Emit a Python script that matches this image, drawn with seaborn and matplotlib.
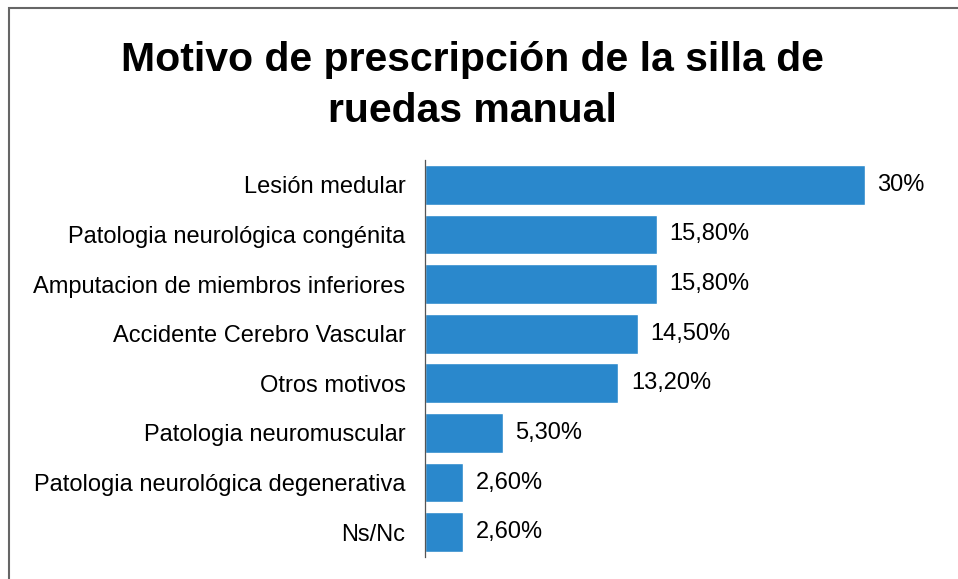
import seaborn as sns
import matplotlib.pyplot as plt
import matplotlib.patches as mpatches
import pandas as pd

# Categories and values (percent)
categories = [
    'Lesión medular', 'Patologia neurológica congénita',
    'Amputacion de miembros inferiores', 'Accidente Cerebro Vascular',
    'Otros motivos', 'Patologia neuromuscular',
    'Patologia neurológica degenerativa', 'Ns/Nc'
]
values = [30, 15.8, 15.8, 14.5, 13.2, 5.3, 2.6, 2.6]
value_labels = ['30%', '15,80%', '15,80%', '14,50%', '13,20%', '5,30%', '2,60%', '2,60%']

data = pd.DataFrame({'motivo': categories, 'pct': values})

sns.set_style('white')
plt.rcParams['font.family'] = ['Liberation Sans', 'DejaVu Sans']
plt.rcParams['text.color'] = 'black'
plt.rcParams['ytick.color'] = 'black'

fig = plt.figure(figsize=(9.58, 5.79), dpi=100)
ax = fig.add_axes([0.4436, 0.038, 0.5355, 0.6857])

sns.barplot(data=data, y='motivo', x='pct', color='#2a88cc', width=0.8,
            saturation=1, ax=ax)

ax.bar_label(ax.containers[0], labels=value_labels, padding=9, fontsize=17)

ax.set_xlim(0, 35)
ax.set_xlabel('')
ax.set_ylabel('')
ax.set_xticks([])
ax.tick_params(axis='y', length=0, pad=14, labelsize=17, labelcolor='black')
for side in ['top', 'right', 'bottom']:
    ax.spines[side].set_visible(False)
ax.spines['left'].set_color('#555555')
ax.spines['left'].set_linewidth(0.9)

fig.text(0.493, 0.93, 'Motivo de prescripción de la silla de\nruedas manual',
         ha='center', va='top', fontsize=29.5, fontweight='bold',
         linespacing=1.45, color='black')

# outer frame (only top and left visible in the reference)
frame = mpatches.Rectangle((0.0095, -0.05), 1.1, 1.036, transform=fig.transFigure,
                           fill=False, edgecolor='#666666', linewidth=1.5)
fig.patches.append(frame)

plt.savefig('out.png', dpi=100)
